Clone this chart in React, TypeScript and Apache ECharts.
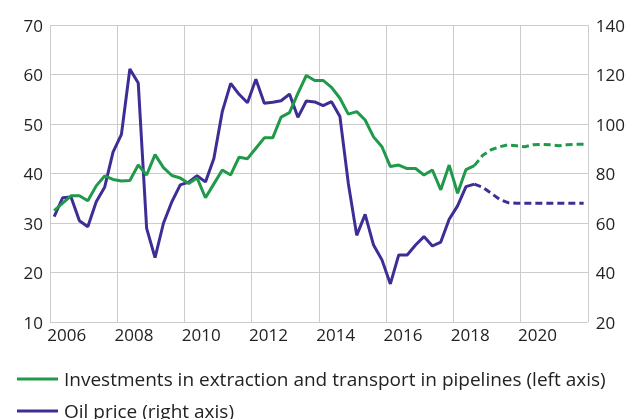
import React, { useEffect, useRef } from "react";
import * as echarts from "echarts";

const years = ["2006","2007","2008","2009","2010","2011","2012","2013","2014","2015","2016","2017","2018","2019","2020","2021"];
const startYear = 2006;

// Quarterly, 2006Q1 .. 2018Q3 (actual)
const investment = [
  32.5, 34.0, 35.5, 35.5, 34.5, 37.5, 39.5, 38.8,
  38.5, 38.6, 41.7, 39.7, 43.8, 41.2, 39.6, 39.1,
  38.0, 39.1, 35.1, 37.9, 40.7, 39.7, 43.3, 43.0,
  45.1, 47.2, 47.2, 51.4, 52.3, 56.2, 59.8, 58.8,
  58.8, 57.4, 55.2, 52.0, 52.5, 50.8, 47.4, 45.4,
  41.4, 41.7, 41.0, 41.0, 39.7, 40.7, 36.7, 41.7,
  36.0, 40.8, 41.6,
];
// 2018Q3 .. 2021Q4 (projection)
const investmentProjection = [41.6, 43.7, 44.8, 45.4, 45.8, 45.6, 45.4, 45.8, 45.9, 45.8, 45.6, 45.8, 45.9, 45.9];

const oilPrice = [
  62.6, 70.2, 70.5, 60.9, 58.5, 68.6, 74.4, 88.6,
  95.8, 122.2, 116.6, 57.8, 46.0, 59.9, 68.6, 75.4,
  76.5, 79.1, 76.6, 86.1, 105.0, 116.4, 112.0, 108.6,
  118.1, 108.4, 108.8, 109.4, 112.1, 102.7, 109.3, 108.9,
  107.4, 109.0, 103.0, 76.0, 55.0, 63.5, 51.1, 45.1,
  35.4, 47.1, 47.1, 51.1, 54.5, 50.7, 52.3, 61.5,
  66.9, 74.7, 75.7,
];
const oilPriceProjection = [75.7, 74.4, 72.0, 69.6, 68.2, 68.0, 68.0, 68.0, 68.0, 68.0, 68.0, 68.0, 68.0, 68.0];

const leftTicks = { min: 10, max: 70, interval: 10 };
const rightTicks = { min: 20, max: 140, interval: 20 };

const INVESTMENT_NAME = "Investments in extraction and transport in pipelines (left axis)";
const OIL_NAME = "Oil price (right axis)";

const GREEN = "#1f9a4a";
const PURPLE = "#3f2d96";
const TEXT = "#222222";
const GRID = "#cccccc";
const FONT = "Open Sans";

const quarterTime = (i: number) => startYear + (i + 0.5) / 4;
const toPairs = (vals: number[], offset: number) => vals.map((v, k) => [quarterTime(k + offset), v]);

const legendBase = {
  orient: "vertical",
  left: 17,
  padding: 0,
  icon: "rect",
  itemWidth: 41,
  itemHeight: 3,
  textStyle: { fontFamily: FONT, fontSize: 19, color: TEXT, lineHeight: 20, padding: [0, 0, 0, 1] },
};

export default function App() {
  const ref = useRef<HTMLDivElement>(null);
  useEffect(() => {
    if (!ref.current) return;
    const chart = echarts.init(ref.current, undefined, { renderer: "svg" });
    const projOffset = investment.length - 1;
    chart.setOption({
      animation: false,
      textStyle: { fontFamily: FONT },
      grid: { left: 50, right: 39, top: 25, bottom: 97, containLabel: false },
      legend: [
        { ...legendBase, top: 369, data: [{ name: INVESTMENT_NAME, itemStyle: { color: GREEN } }] },
        { ...legendBase, top: 401, data: [{ name: OIL_NAME, itemStyle: { color: PURPLE } }] },
      ],
      xAxis: [
        {
          type: "value",
          min: 2006,
          max: 2022,
          interval: 2,
          axisLabel: { show: false },
          axisTick: { show: false },
          axisLine: { show: false },
          splitLine: { show: true, lineStyle: { color: GRID, width: 1 } },
        },
        {
          type: "category",
          data: years,
          boundaryGap: true,
          position: "bottom",
          axisLabel: { interval: 1, color: TEXT, fontSize: 17, fontFamily: FONT, margin: 4 },
          axisTick: { show: false },
          axisLine: { show: false },
          splitLine: { show: false },
        },
      ],
      yAxis: [
        {
          type: "value",
          position: "left",
          ...leftTicks,
          axisLabel: { color: TEXT, fontSize: 17, fontFamily: FONT, margin: 7 },
          axisTick: { show: false },
          axisLine: { show: false },
          splitLine: { show: true, lineStyle: { color: GRID, width: 1 } },
        },
        {
          type: "value",
          position: "right",
          ...rightTicks,
          axisLabel: { color: TEXT, fontSize: 17, fontFamily: FONT, margin: 8 },
          axisTick: { show: false },
          axisLine: { show: false },
          splitLine: { show: false },
        },
      ],
      series: [
        {
          name: INVESTMENT_NAME,
          type: "line",
          xAxisIndex: 0,
          yAxisIndex: 0,
          data: toPairs(investment, 0),
          showSymbol: false,
          lineStyle: { color: GREEN, width: 3 },
          itemStyle: { color: GREEN },
          z: 3,
        },
        {
          name: "investmentProjection",
          type: "line",
          xAxisIndex: 0,
          yAxisIndex: 0,
          data: toPairs(investmentProjection, projOffset),
          showSymbol: false,
          lineStyle: { color: GREEN, width: 3, type: [7, 4] },
          itemStyle: { color: GREEN },
          z: 3,
        },
        {
          name: OIL_NAME,
          type: "line",
          xAxisIndex: 0,
          yAxisIndex: 1,
          data: toPairs(oilPrice, 0),
          showSymbol: false,
          lineStyle: { color: PURPLE, width: 3 },
          itemStyle: { color: PURPLE },
          z: 2,
        },
        {
          name: "oilPriceProjection",
          type: "line",
          xAxisIndex: 0,
          yAxisIndex: 1,
          data: toPairs(oilPriceProjection, projOffset),
          showSymbol: false,
          lineStyle: { color: PURPLE, width: 3, type: [7, 4] },
          itemStyle: { color: PURPLE },
          z: 2,
        },
      ],
    });
    return () => chart.dispose();
  }, []);
  return <div ref={ref} style={{ width: 628, height: 419, position: "fixed", left: 0, top: 0 }} />;
}
